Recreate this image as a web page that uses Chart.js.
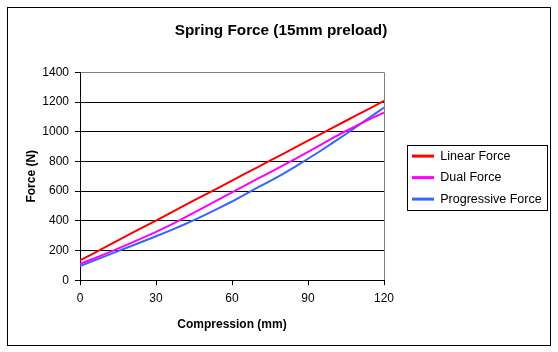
<!DOCTYPE html>
<html>
<head>
<meta charset="utf-8">
<script src="https://cdn.jsdelivr.net/npm/chart.js@4/dist/chart.umd.min.js"></script>
<style>
html,body{margin:0;padding:0;background:#fff;}
#wrap{width:558px;height:352px;position:relative;}
</style>
</head>
<body>
<div id="wrap"><canvas id="c" width="558" height="352"></canvas></div>
<script>
const compression = [0,5,10,15,20,25,30,35,40,45,50,55,60,65,70,75,80,85,90,95,100,105,110,115,120];
const linearForce = [134,178,223,268,313,357,402,447,492,537,581,626,671,716,760,805,850,895,940,984,1029,1074,1118,1163,1208];
const dualForce = [110,143,177,213,250,287,325,366,410,455,500,546,592,637,682,727,772,818,865,912,960,1005,1048,1090,1128];
const progressiveForce = [96,129,162,196,229,262,296,331,367,405,445,487,530,577,623,668,715,765,818,872,928,985,1045,1103,1163];
const xTicks = [0,30,60,90,120];
const yTicks = [0,200,400,600,800,1000,1200,1400];

const seriesNames = ['Linear Force','Dual Force','Progressive Force'];
const seriesColors = ['#ff0000','#ff00ff','#3366ff'];
const seriesData = [linearForce, dualForce, progressiveForce];

const FONT = "'Liberation Sans', Arial, sans-serif";
const LEG_SIZE = 12.5, LEG_BOX = 22, LEG_PAD = 9;

// measure widest legend label so the legend starts where the reference one does
const mctx = document.createElement('canvas').getContext('2d');
mctx.font = LEG_SIZE + "px " + FONT;
const maxText = Math.max(...seriesNames.map(s => mctx.measureText(s).width));
const legendWidth = Math.ceil(LEG_PAD + LEG_BOX + LEG_SIZE / 2 + maxText);
const legendLeft = 403;
const plotRight = 384;
const padRight = Math.max(0, 558 - legendLeft - legendWidth);

const frame = {
  id: 'frame',
  beforeDraw(chart) {
    const ctx = chart.ctx;
    ctx.save();
    ctx.fillStyle = '#fff';
    ctx.fillRect(0,0,chart.width,chart.height);
    ctx.restore();
  },
  afterDraw(chart) {
    const ctx = chart.ctx;
    ctx.save();
    ctx.strokeStyle = '#000';
    ctx.lineWidth = 1;
    ctx.strokeRect(7.5, 7.5, 543, 338);
    const hb = chart.legend.legendHitBoxes;
    if (hb && hb.length) {
      let l = Infinity, r = -Infinity, t = Infinity, b = -Infinity;
      hb.forEach(h => { l = Math.min(l, h.left); r = Math.max(r, h.left + h.width); t = Math.min(t, h.top); b = Math.max(b, h.top + h.height); });
      ctx.strokeRect(Math.round(l - 5) + 0.5, Math.round(t - 5) + 0.5, Math.round(r - l + 10), Math.round(b - t + 9));
    }
    ctx.restore();
  }
};

new Chart(document.getElementById('c'), {
  type: 'line',
  data: {
    datasets: seriesData.map((d, i) => ({
      label: seriesNames[i],
      data: compression.map((x, j) => ({x: x, y: d[j]})),
      borderColor: seriesColors[i],
      backgroundColor: seriesColors[i],
      borderWidth: 2,
      pointRadius: 0,
      tension: 0,
      fill: false,
      yAxisID: 'y'
    }))
  },
  options: {
    responsive: false,
    animation: false,
    devicePixelRatio: 1,
    layout: { padding: { top: 12, right: padRight, bottom: 16, left: 20 } },
    plugins: {
      title: {
        display: true,
        text: 'Spring Force (15mm preload)',
        color: '#000',
        font: { family: FONT, size: 15.3, weight: 'bold' },
        padding: { top: 10, bottom: 32 }
      },
      legend: {
        position: 'right',
        maxWidth: legendWidth,
        title: { display: true, text: '', font: { family: FONT, size: 6 }, padding: 0 },
        labels: {
          color: '#000',
          font: { family: FONT, size: LEG_SIZE },
          boxWidth: LEG_BOX,
          boxHeight: 3,
          padding: LEG_PAD,
          generateLabels(chart) {
            return chart.data.datasets.map((ds, i) => ({
              text: ds.label,
              fillStyle: ds.borderColor,
              strokeStyle: ds.borderColor,
              lineWidth: 0,
              hidden: false,
              datasetIndex: i,
              fontColor: '#000'
            }));
          }
        }
      },
      tooltip: { enabled: false }
    },
    scales: {
      x: {
        type: 'linear',
        min: 0, max: 120,
        afterBuildTicks(scale) { scale.ticks = xTicks.map(v => ({value: v})); },
        ticks: { color: '#000', font: { family: FONT, size: 12 }, padding: 6, maxRotation: 0, callback: v => String(v) },
        grid: {
          color: ctx => (ctx.tick && ctx.tick.value === 120) ? '#808080' : 'rgba(0,0,0,0)',
          tickColor: '#000',
          tickLength: 5,
          lineWidth: 1
        },
        border: { color: '#000', width: 1 },
        title: { display: true, text: 'Compression (mm)', color: '#000', font: { family: FONT, size: 12, weight: 'bold' }, padding: { top: 6 } }
      },
      y: {
        position: 'left',
        min: 0, max: 1400,
        afterBuildTicks(scale) { scale.ticks = yTicks.map(v => ({value: v})); },
        afterFit(scale) { scale.width = 60; },
        ticks: { color: '#000', font: { family: FONT, size: 12 }, padding: 6, callback: v => String(v) },
        grid: {
          color: ctx => (ctx.tick && ctx.tick.value === 1400) ? '#808080' : '#000',
          tickColor: '#000',
          tickLength: 5,
          lineWidth: 1
        },
        border: { color: '#000', width: 1 },
        title: { display: true, text: 'Force (N)', color: '#000', font: { family: FONT, size: 12, weight: 'bold' }, padding: { top: 4, bottom: 0 } }
      },
      gap: {
        type: 'linear',
        position: 'right',
        display: true,
        min: 0, max: 1,
        afterFit(scale) { scale.width = legendLeft - plotRight; },
        ticks: { display: false },
        grid: { display: false, drawTicks: false },
        border: { display: false }
      }
    }
  },
  plugins: [frame]
});
</script>
</body>
</html>
